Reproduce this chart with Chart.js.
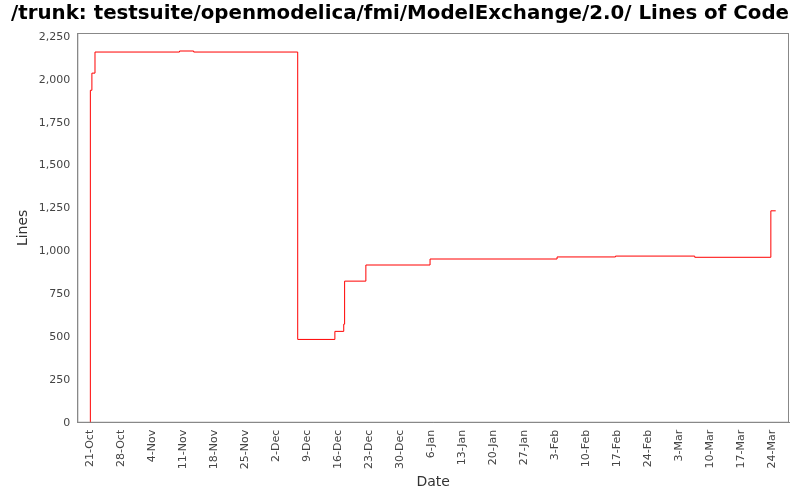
<!DOCTYPE html>
<html><head><script src="https://cdn.jsdelivr.net/npm/chart.js@4"></script>
<style>body{margin:0;background:#fff}#w{width:800px;height:500px}</style></head>
<body><div id="w"><canvas id="c"></canvas></div>
<script>
const dayOffsets=[0,0.05,0.4,1.1,20.2,23.4,46.9,55.3,57.3,57.5,62.3,76.8,105.5,118.7,136.6,153.8,154.9];
const lineValues=[0,1939,2039,2162,2168,2162,486,533,575,826,920,955,967,972,965,1236,1236];
const tickLabels=['21-Oct','28-Oct','4-Nov','11-Nov','18-Nov','25-Nov','2-Dec','9-Dec','16-Dec','23-Dec','30-Dec','6-Jan','13-Jan','20-Jan','27-Jan','3-Feb','10-Feb','17-Feb','24-Feb','3-Mar','10-Mar','17-Mar','24-Mar'];
const pts=dayOffsets.map((d,i)=>({x:d,y:lineValues[i]}));
const font={family:'DejaVu Sans',size:11};
new Chart(document.getElementById('c'),{type:'line',
data:{datasets:[{data:pts,borderColor:'#ff0000',borderWidth:1,pointRadius:0,stepped:true,fill:false}]},
options:{responsive:true,maintainAspectRatio:false,animation:false,
layout:{padding:{left:11,right:11,top:0,bottom:5}},
plugins:{legend:{display:false},tooltip:{enabled:false},
title:{display:true,text:'/trunk: testsuite/openmodelica/fmi/ModelExchange/2.0/ Lines of Code',align:'start',color:'#000',font:{family:'DejaVu Sans',size:20,weight:'bold'},padding:{top:2,bottom:7}}},
scales:{
x:{type:'linear',min:-2.9,max:157.9,border:{color:'#888'},grid:{display:false,drawTicks:true,tickLength:4},
afterBuildTicks:a=>{a.ticks=tickLabels.map((_,i)=>({value:i*7}));},
ticks:{autoSkip:false,maxRotation:90,minRotation:90,color:'#444',font,callback:(v)=>tickLabels[Math.round(v/7)]},
title:{display:true,text:'Date',color:'#333',font:{family:'DejaVu Sans',size:14},padding:{top:2}}},
y:{min:0,max:2273,border:{color:'#888'},grid:{display:false,tickLength:4},
afterBuildTicks:a=>{a.ticks=[0,250,500,750,1000,1250,1500,1750,2000,2250].map(v=>({value:v}));},
ticks:{color:'#444',font,callback:v=>v.toLocaleString('en-US')},
title:{display:true,text:'Lines',color:'#333',font:{family:'DejaVu Sans',size:14}}}}},
plugins:[{id:'frame',afterDraw(c){const a=c.chartArea,g=c.ctx;g.save();g.strokeStyle='#888';g.lineWidth=1;g.strokeRect(a.left+0.5,a.top+0.5,a.width-1,a.height-1);g.restore();}}]
});
</script></body></html>
